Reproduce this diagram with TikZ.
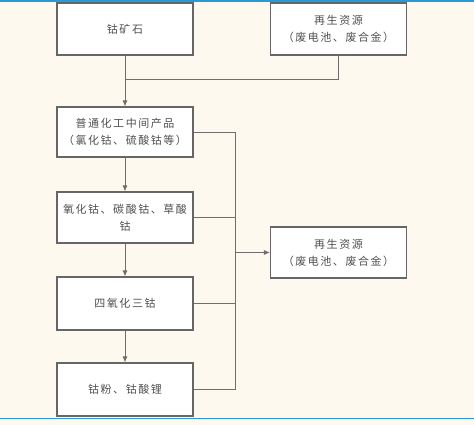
\documentclass[tikz,border=0pt]{standalone}
\usepackage{fontspec}
\newfontfamily\cjkfont[LetterSpace=14]{Noto Sans CJK SC}
\usetikzlibrary{arrows.meta}
\definecolor{bgcream}{HTML}{FEF9EE}
\definecolor{edgegray}{HTML}{666666}
\definecolor{linegray}{HTML}{6E6E6E}
\definecolor{txtgray}{HTML}{505050}
\definecolor{bluerule}{HTML}{2A9AD6}
\begin{document}
\begin{tikzpicture}[x=1pt,y=-1pt,
  boxnode/.style={draw=edgegray,line width=1.1pt,fill=white,minimum width=136pt,minimum height=52pt,
    inner sep=0pt,align=center,text=txtgray,font=\cjkfont\fontsize{11}{17}\selectfont},
  conn/.style={draw=linegray,line width=0.9pt},
  arr/.style={conn,-{Latex[length=6pt,width=5pt]}}]
\useasboundingbox (0,0) rectangle (474,425);
\fill[bgcream] (0,0) rectangle (474,425);
\draw[bluerule,line width=1.2pt] (0,1) -- (474,1);
\draw[bluerule,line width=1.2pt] (0,418.5) -- (474,418.5);
\node[boxnode] (ore) at (125,29) {钴矿石};
\node[boxnode] (rec1) at (338.5,29) {再生资源\\（废电池、废合金）};
\node[boxnode,minimum height=50pt] (mid) at (125,132) {普通化工中间产品\\（氯化钴、硫酸钴等）};
\node[boxnode,minimum height=51pt] (oxide) at (125,217.5) {氧化钴、碳酸钴、草酸\\钴};
\node[boxnode,minimum height=51pt] (rec2) at (338.5,252.5) {再生资源\\（废电池、废合金）};
\node[boxnode,minimum height=53pt] (tri) at (125,303.5) {四氧化三钴};
\node[boxnode,minimum height=53pt] (powder) at (125,389.5) {钴粉、钴酸锂};
\coordinate (j1) at (125,79);
\coordinate (busTop) at (235,132);
\coordinate (busBot) at (235,389.5);
\draw[arr] (ore.south) -- (mid.north);
\draw[conn] (rec1.south) |- (j1);
\draw[conn] (mid.east) -- (busTop) -- (busBot) -- (powder.east);
\draw[conn] (oxide.east) -- (oxide.east -| busTop);
\draw[conn] (tri.east) -- (tri.east -| busTop);
\draw[arr] (rec2.west -| busTop) -- (rec2.west);
\draw[arr] (mid.south) -- (oxide.north);
\draw[arr] (oxide.south) -- (tri.north);
\draw[arr] (tri.south) -- (powder.north);
\end{tikzpicture}
\end{document}
